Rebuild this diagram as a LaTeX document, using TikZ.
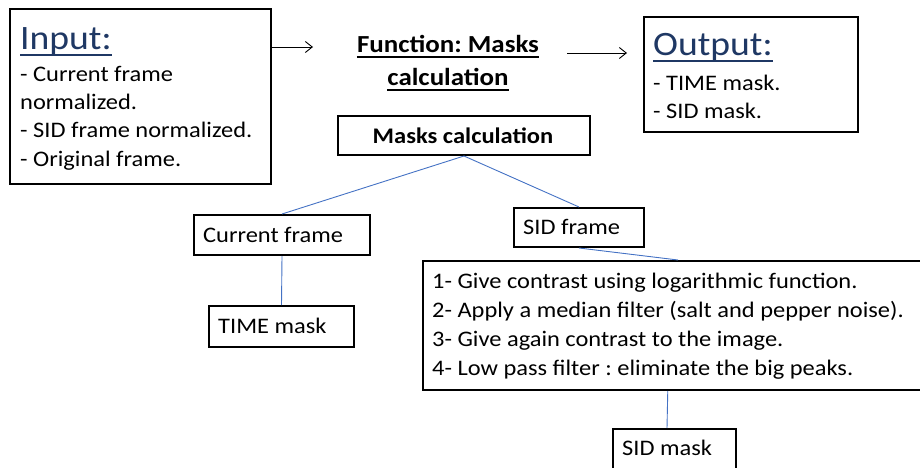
\documentclass[tikz,border=0pt]{standalone}
\usepackage{fontspec}
\setmainfont{Carlito}[FakeStretch=1.1]
\usetikzlibrary{arrows.meta,calc}
\definecolor{navy}{HTML}{1F3864}
\definecolor{linkblue}{HTML}{4472C4}
\frenchspacing
\begin{document}
\begin{tikzpicture}[x=1pt,y=-1pt,
  box/.style={draw=black,line width=2pt,fill=white,inner sep=0pt,anchor=north west},
  txt/.style={inner sep=0pt,anchor=base west,font=\fontsize{22.2}{26}\selectfont},
  boldtxt/.style={inner sep=0pt,anchor=base,font=\fontsize{22.3}{26}\selectfont\bfseries},
  titletxt/.style={inner sep=0pt,anchor=base,font=\fontsize{24.5}{28}\selectfont\bfseries},
  head/.style={inner sep=0pt,anchor=base west,text=navy,font=\fontsize{34.2}{38}\selectfont},
  link/.style={draw=linkblue,line width=0.9pt},
  flow/.style={draw=black,line width=0.9pt,-{Straight Barb[length=7pt,width=11pt,line width=0.9pt]}},
  uline/.style={line width=1.6pt}]
\useasboundingbox (0,0) rectangle (920,468);

% input box
\node[box,minimum width=261pt,minimum height=175pt] (inbox) at (9,8) {};
\node[head] (inhead) at (20,50) {Input:};
\draw[uline,navy] ([yshift=-5pt]inhead.base west) -- ([yshift=-5pt]inhead.base east);
\node[txt] (in1) at (20,82) {- Current frame};
\node[txt] (in2) at (20,110) {normalized.};
\node[txt] (in3) at (20,138) {- SID frame normalized.};
\node[txt] (in4) at (20,166) {- Original frame.};

% function title
\node[titletxt] (ft1) at (448,53) {Function: Masks};
\node[titletxt] (ft2) at (448,86) {calculation};
\draw[uline] ([yshift=-4pt]ft1.base west) -- ([yshift=-4pt]ft1.base east);
\draw[uline] ([yshift=-4pt]ft2.base west) -- ([yshift=-4pt]ft2.base east);

% output box
\node[box,minimum width=214pt,minimum height=115pt] (outbox) at (643,16) {};
\node[head] (outhead) at (653,56) {Output:};
\draw[uline,navy] ([yshift=-5pt]outhead.base west) -- ([yshift=-5pt]outhead.base east);
\node[txt] (out1) at (653,91) {- TIME mask.};
\node[txt] (out2) at (653,119) {- SID mask.};

% flow arrows
\coordinate (a1) at (313,47);
\draw[flow] (inbox.east |- a1) -- (a1);
\coordinate (a2s) at (567,53);
\coordinate (a2e) at (627,53);
\draw[flow] (a2s) -- (a2e);

% tree of boxes
\node[box,minimum width=252pt,minimum height=39pt] (mc) at (337,115) {};
\node[boldtxt] (mclabel) at (463,143) {Masks calculation};

\node[box,minimum width=176pt,minimum height=40pt] (cf) at (193,214) {};
\node[txt] (cflabel) at (203,242) {Current frame};

\node[box,minimum width=130pt,minimum height=39pt] (sf) at (513,207) {};
\node[txt] (sflabel) at (523,234) {SID frame};

\node[box,minimum width=145pt,minimum height=41pt] (tm) at (208,305) {};
\node[txt] (tmlabel) at (218,333) {TIME mask};

\node[box,minimum width=510pt,minimum height=129pt] (steps) at (422,260) {};
\node[txt] (s1) at (432,288) {1- Give contrast using logarithmic function.};
\node[txt] (s2) at (432,317) {2- Apply a median filter (salt and pepper noise).};
\node[txt] (s3) at (432,346) {3- Give again contrast to the image.};
\node[txt] (s4) at (432,375) {4- Low pass filter : eliminate the big peaks.};

\node[box,minimum width=123pt,minimum height=42pt] (sm) at (612,428) {};
\node[txt] (smlabel) at (622,455) {SID mask};

% connectors
\draw[link] (mc.south) -- (cf.north);
\draw[link] (mc.south) -- (sf.north);
\draw[link] (cf.south) -- (tm.north);
\draw[link] (sf.south) -- (steps.north);
\draw[link] ($(steps.south west)!0.48!(steps.south east)$) -- ($(sm.north west)!0.44!(sm.north east)$);
\end{tikzpicture}
\end{document}
